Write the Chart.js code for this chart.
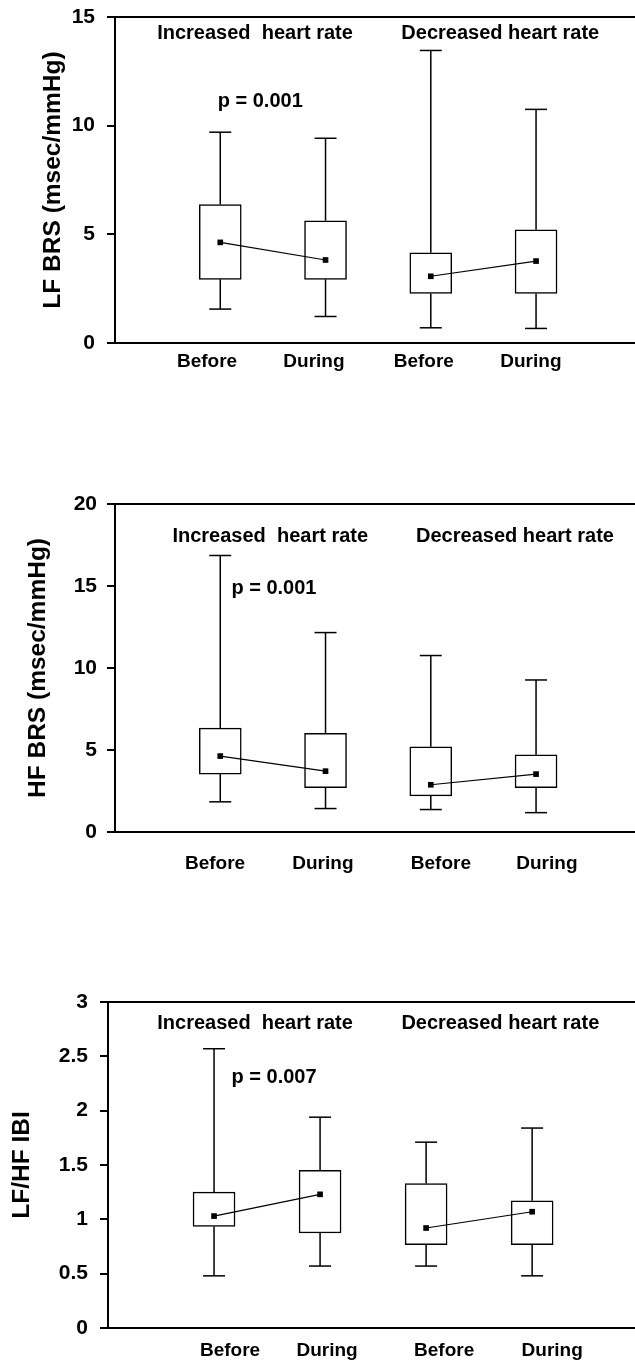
<!DOCTYPE html>
<html>
<head>
<meta charset="utf-8">
<script src="https://cdn.jsdelivr.net/npm/chart.js@4/dist/chart.umd.min.js"></script>
<style>
  body { margin: 0; background: #fff; }
  canvas { position: absolute; left: 0; }
</style>
</head>
<body>
<canvas id="lfChart" width="635" height="390" style="top:0px"></canvas>
<canvas id="hfChart" width="635" height="410" style="top:470px"></canvas>
<canvas id="ratioChart" width="635" height="402" style="top:960px"></canvas>
<script>
// category labels under the boxes and the group titles
const xLabels = ["Before", "During", "Before", "During"];
const groupTitles = ["Increased  heart rate", "Decreased heart rate"];

// LF BRS (msec/mmHg): whisker ends, box edges and the marked centre value
const lfMin = [1.56, 1.22, 0.70, 0.67];
const lfQ1  = [2.93, 2.93, 2.28, 2.28];
const lfMid = [4.63, 3.82, 3.07, 3.77];
const lfQ3  = [6.37, 5.62, 4.15, 5.21];
const lfMax = [9.70, 9.42, 13.46, 10.75];

// HF BRS (msec/mmHg)
const hfMin = [1.84, 1.43, 1.37, 1.18];
const hfQ1  = [3.53, 2.71, 2.20, 2.71];
const hfMid = [4.63, 3.71, 2.88, 3.53];
const hfQ3  = [6.33, 6.02, 5.20, 4.71];
const hfMax = [16.86, 12.16, 10.76, 9.27];

// LF/HF IBI
const ratioMin = [0.48, 0.57, 0.57, 0.48];
const ratioQ1  = [0.935, 0.874, 0.767, 0.767];
const ratioMid = [1.03, 1.23, 0.92, 1.07];
const ratioQ3  = [1.25, 1.45, 1.33, 1.17];
const ratioMax = [2.57, 1.94, 1.71, 1.84];

const FONT = '"Liberation Sans", Arial, sans-serif';

// build the datasets of one box plot panel
function boxDatasets(mins, q1s, mids, q3s, maxs) {
  const whiskers = [];
  const caps = [];
  const boxes = [];
  const centre = [];
  for (let i = 0; i < mins.length; i++) {
    const x = i + 1;
    whiskers.push({x: x, y: q3s[i]}, {x: x, y: maxs[i]}, {x: x, y: null});
    whiskers.push({x: x, y: q1s[i]}, {x: x, y: mins[i]}, {x: x, y: null});
    caps.push({x: x, y: maxs[i]}, {x: x, y: mins[i]});
    boxes.push({x: x, y: [q1s[i], q3s[i]]});
    centre.push({x: x, y: mids[i]});
    // break the connecting line between the two groups
    if (i % 2 == 1 && i < mins.length - 1) centre.push({x: x, y: null});
  }
  return [
    {
      type: 'bar', data: boxes, order: 3,
      backgroundColor: '#fff', borderColor: '#000', borderWidth: 1.5,
      borderSkipped: false, barThickness: 42
    },
    {
      type: 'line', data: whiskers, order: 2,
      borderColor: '#000', borderWidth: 1.5, pointRadius: 0, spanGaps: false
    },
    {
      type: 'line', data: caps, order: 1, showLine: false,
      pointStyle: 'line', pointRadius: 11, pointBorderWidth: 1.5, pointBorderColor: '#000'
    },
    {
      type: 'line', data: centre, order: 0,
      borderColor: '#000', borderWidth: 1.2, spanGaps: false,
      pointStyle: 'rect', pointRadius: 4, pointBackgroundColor: '#000', pointBorderWidth: 0
    }
  ];
}

function drawPanel(id, data, s) {
  // free text (group titles, p value) placed in data coordinates
  const notes = {
    id: 'notes',
    afterDatasetsDraw(chart) {
      const ctx = chart.ctx;
      const x = chart.scales.x, y = chart.scales.y;
      ctx.save();
      ctx.font = 'bold 20px ' + FONT;
      ctx.fillStyle = '#000';
      ctx.textAlign = 'center';
      ctx.textBaseline = 'middle';
      s.notes.forEach(n => ctx.fillText(n.text, x.getPixelForValue(n.x), y.getPixelForValue(n.y)));
      ctx.restore();
    }
  };

  new Chart(document.getElementById(id), {
    type: 'bar',
    data: {datasets: boxDatasets(...data)},
    plugins: [notes],
    options: {
      responsive: false,
      animation: false,
      events: [],
      layout: {autoPadding: false, padding: {top: s.top, left: 0, right: 0, bottom: 0}},
      plugins: {legend: {display: false}, tooltip: {enabled: false}},
      scales: {
        x: {
          type: 'linear', position: 'bottom', min: 0, max: s.xMax,
          offset: false,
          grid: {display: false, drawTicks: false, offset: false},
          border: {display: true, color: '#000', width: 2},
          afterBuildTicks: axis => { axis.ticks = s.labelAt.map(v => ({value: v})); },
          afterFit: axis => { axis.height = s.bottom; axis.paddingLeft = 0; axis.paddingRight = 0; },
          ticks: {
            color: '#000', padding: s.labelPad, maxRotation: 0, autoSkip: false,
            font: {family: FONT, size: 19, weight: 'bold'},
            callback: (v, i) => xLabels[i]
          }
        },
        xTop: {
          type: 'linear', position: 'top', min: 0, max: s.xMax,
          grid: {display: false, drawTicks: false},
          border: {display: true, color: '#000', width: 2},
          ticks: {display: false},
          afterFit: axis => { axis.height = 0; axis.paddingLeft = 0; axis.paddingRight = 0; }
        },
        y: {
          type: 'linear', min: 0, max: s.yMax,
          grid: {display: true, drawOnChartArea: false, drawTicks: true, tickLength: 8, color: '#000', lineWidth: 2},
          border: {display: true, color: '#000', width: 2},
          afterFit: axis => { axis.width = s.left; axis.paddingTop = 0; axis.paddingBottom = 0; },
          ticks: {
            stepSize: s.step, color: '#000', padding: s.tickPad,
            font: {family: FONT, size: 21, weight: 'bold'},
            callback: v => String(v)
          },
          title: {
            display: true, text: s.title, color: '#000',
            font: {family: FONT, size: 24.5, weight: 'bold', lineHeight: 1},
            padding: {top: s.titlePad, bottom: 0}
          }
        }
      }
    }
  });
}

drawPanel('lfChart', [lfMin, lfQ1, lfMid, lfQ3, lfMax], {
  title: 'LF BRS (msec/mmHg)', yMax: 15, step: 5, xMax: 4.94,
  top: 17, bottom: 47, left: 115, tickPad: 12, titlePad: 41, labelPad: 7.6,
  labelAt: [0.874, 1.89, 2.934, 3.951],
  notes: [
    {text: groupTitles[0], x: 1.33, y: 14.22},
    {text: groupTitles[1], x: 3.66, y: 14.22},
    {text: 'p = 0.001', x: 1.38, y: 11.09}
  ]
});

drawPanel('hfChart', [hfMin, hfQ1, hfMid, hfQ3, hfMax], {
  title: 'HF BRS (msec/mmHg)', yMax: 20, step: 5, xMax: 4.94,
  top: 34, bottom: 48, left: 115, tickPad: 10, titlePad: 26, labelPad: 20.6,
  labelAt: [0.95, 1.975, 3.096, 4.103],
  notes: [
    {text: groupTitles[0], x: 1.475, y: 17.99},
    {text: groupTitles[1], x: 3.80, y: 17.99},
    {text: 'p = 0.001', x: 1.51, y: 14.82}
  ]
});

drawPanel('ratioChart', [ratioMin, ratioQ1, ratioMid, ratioQ3, ratioMax], {
  title: 'LF/HF IBI', yMax: 3, step: 0.5, xMax: 4.97,
  top: 42, bottom: 34, left: 108, tickPad: 12, titlePad: 10, labelPad: 11.6,
  labelAt: [1.151, 2.066, 3.17, 4.189],
  notes: [
    {text: groupTitles[0], x: 1.387, y: 2.806},
    {text: groupTitles[1], x: 3.70, y: 2.806},
    {text: 'p = 0.007', x: 1.566, y: 2.309}
  ]
});
</script>
</body>
</html>
